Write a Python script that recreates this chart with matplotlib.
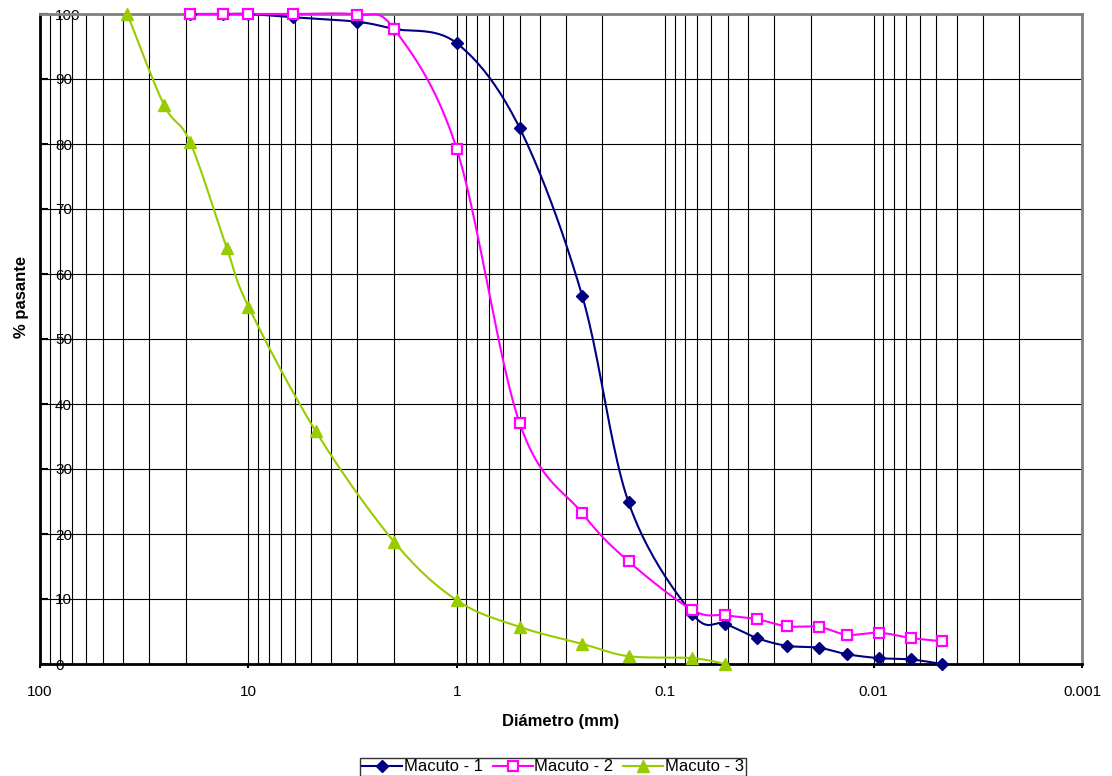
import numpy as np
import matplotlib.pyplot as plt
from matplotlib.ticker import LogLocator, NullFormatter, FixedLocator
from matplotlib.lines import Line2D

plt.rcParams['font.family'] = ['Liberation Sans', 'DejaVu Sans']

# Macuto - 1 / Macuto - 2 share the same sieve / hydrometer diameters
d_12 = [19.05, 13.2, 10.0, 6.1, 3.0, 2.0, 1.0, 0.5, 0.25, 0.15, 0.074,
        0.0517, 0.0363, 0.0261, 0.0183, 0.0134, 0.0094, 0.0066, 0.0047]
macuto_1 = [100, 100, 100, 99.5, 98.8, 97.7, 95.5, 82.5, 56.6, 24.9, 7.7,
            6.2, 4.0, 2.8, 2.5, 1.5, 0.9, 0.7, 0.0]
macuto_2 = [100, 100, 100, 100, 99.9, 97.7, 79.2, 37.1, 23.2, 15.8, 8.3,
            7.5, 6.9, 5.8, 5.7, 4.5, 4.8, 4.0, 3.5]

d_3 = [38.1, 25.4, 19.05, 12.7, 10.0, 4.75, 2.0, 1.0, 0.5, 0.25, 0.15, 0.074, 0.0517]
macuto_3 = [100, 86.0, 80.3, 64.0, 55.0, 35.8, 18.8, 9.8, 5.7, 3.1, 1.2, 0.9, 0.0]

x_ticks = [100, 10, 1, 0.1, 0.01, 0.001]
x_ticklabels = ['100', '10', '1', '0.1', '0.01', '0.001']
y_ticks = list(range(0, 101, 10))


def smooth(d, p, n=24):
    # Excel-style smoothed line (Catmull-Rom / Bezier) in log-x space
    u = np.log10(np.asarray(d, float))
    v = np.asarray(p, float)
    pts = np.column_stack([u, v])
    ext = np.vstack([pts[0], pts, pts[-1]])
    out = [pts[0]]
    t = np.linspace(0, 1, n)[1:]
    for i in range(1, len(ext) - 2):
        p0, p1, p2, p3 = ext[i - 1], ext[i], ext[i + 1], ext[i + 2]
        c1 = p1 + (p2 - p0) / 6
        c2 = p2 - (p3 - p1) / 6
        seg = ((1 - t) ** 3)[:, None] * p1 + (3 * (1 - t) ** 2 * t)[:, None] * c1 \
            + (3 * (1 - t) * t ** 2)[:, None] * c2 + (t ** 3)[:, None] * p2
        out.extend(seg)
    out = np.array(out)
    return 10 ** out[:, 0], out[:, 1]


fig = plt.figure(figsize=(11.12, 7.76), dpi=100)
ax = fig.add_axes([40 / 1112, 112 / 776, 1042 / 1112, 650 / 776])

series = [
    (d_12, macuto_1, '#000080', 'D', dict(ms=6.5, mfc='#000080', mec='#000080'), 'Macuto - 1'),
    (d_12, macuto_2, '#FF00FF', 's', dict(ms=6.5, mfc='white', mec='#FF00FF', mew=1.6), 'Macuto - 2'),
    (d_3, macuto_3, '#99CC00', '^', dict(ms=8.5, mfc='#99CC00', mec='#99CC00'), 'Macuto - 3'),
]
handles = []
for d, p, col, mk, mkw, lab in series:
    xs, ys = smooth(d, p)
    ax.plot(xs, ys, color=col, lw=1.5, zorder=3, clip_on=False)
    ax.plot(d, p, ls='none', marker=mk, zorder=4, clip_on=False, **mkw)
    handles.append(Line2D([], [], color=col, lw=1.5, marker=mk, label=lab, **mkw))

ax.set_xscale('log')
ax.set_xlim(100, 0.001)
ax.set_ylim(0, 100)

ax.xaxis.set_major_locator(FixedLocator(x_ticks))
ax.set_xticklabels(x_ticklabels)
ax.xaxis.set_minor_locator(LogLocator(base=10, subs=np.arange(2, 10)))
ax.xaxis.set_minor_formatter(NullFormatter())
ax.set_yticks(y_ticks)

ax.grid(which='both', axis='x', color='black', lw=0.8)
ax.grid(which='major', axis='y', color='black', lw=0.8)
ax.set_axisbelow(True)

ax.tick_params(axis='x', which='major', direction='out', length=3, width=1.5,
               pad=12, labelsize=11)
ax.tick_params(axis='x', which='minor', length=0)
ax.tick_params(axis='y', direction='in', length=6, width=1.5, pad=-10.8, labelsize=11)
for lbl in ax.get_yticklabels():
    lbl.set_horizontalalignment('left')

for s in ['left', 'bottom']:
    ax.spines[s].set_color('black')
    ax.spines[s].set_linewidth(2)
for s in ['top', 'right']:
    ax.spines[s].set_color('#808080')
    ax.spines[s].set_linewidth(2)

ax.set_xlabel('Diámetro (mm)', fontsize=12, fontweight='bold', labelpad=11)
ax.set_ylabel('% pasante', fontsize=12, fontweight='bold')
ax.yaxis.set_label_coords(-0.011, 0.565)

leg = fig.legend(handles=handles, loc='lower center', bbox_to_anchor=(553 / 1112, 0.0),
                 ncol=3, fontsize=12, frameon=True, fancybox=False, edgecolor='black',
                 handlelength=2.4, handletextpad=0.1, columnspacing=0.6,
                 borderpad=0.1, borderaxespad=0.0)
leg.get_frame().set_linewidth(1.0)

fig.savefig('out.png', dpi=100)
